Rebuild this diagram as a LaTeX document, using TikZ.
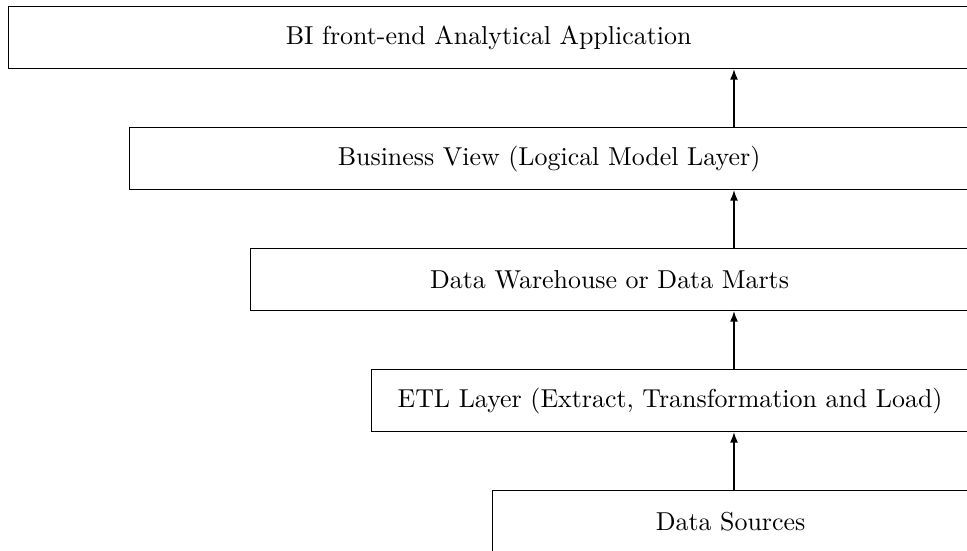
\documentclass[tikz,border=0pt]{standalone}
\usetikzlibrary{arrows.meta}
\newcommand{\pxu}{0.386pt}
\begin{document}
\begin{tikzpicture}[x=0.386pt,y=-0.386pt,
  layerbox/.style={draw, line width=0.45pt, rectangle, anchor=north west, inner sep=0pt,
    minimum height=62*\pxu, font=\normalsize},
  arr/.style={-{Latex[length=4pt,width=3pt]}, line width=0.45pt}]
\useasboundingbox (0,0) rectangle (967,550);
\node[layerbox, minimum width=960*\pxu] (bi) at (8,6) {BI front-end Analytical Application};
\node[layerbox, minimum width=839*\pxu] (bv) at (129,127) {Business View (Logical Model Layer)};
\node[layerbox, minimum width=718*\pxu] (dw) at (250,248) {Data Warehouse or Data Marts};
\node[layerbox, minimum width=597*\pxu] (etl) at (371,369) {ETL Layer (Extract, Transformation and Load)};
\node[layerbox, minimum width=476*\pxu] (ds) at (492,490) {Data Sources};
\coordinate (ax) at (734,0);
\draw[arr] (ds.north -| ax) -- (etl.south -| ax);
\draw[arr] (etl.north -| ax) -- (dw.south -| ax);
\draw[arr] (dw.north -| ax) -- (bv.south -| ax);
\draw[arr] (bv.north -| ax) -- (bi.south -| ax);
\end{tikzpicture}
\end{document}
